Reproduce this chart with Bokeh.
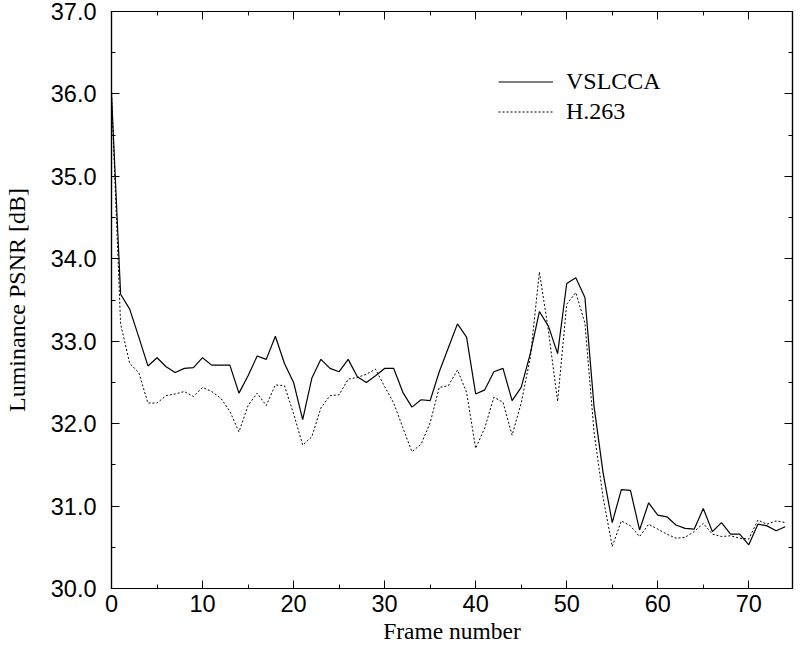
from bokeh.plotting import figure
from bokeh.models import (Range1d, SingleIntervalTicker, LinearAxis, NumeralTickFormatter,
                          Legend, LegendItem, ColumnDataSource)
from bokeh.embed import file_html
from bokeh.resources import INLINE

# ---- data -------------------------------------------------------------
frames = list(range(75))
vslcca = [36.00, 33.57, 33.39, 33.05, 32.70, 32.80, 32.69, 32.62, 32.67, 32.68,
          32.80, 32.71, 32.71, 32.71, 32.37, 32.58, 32.82, 32.78, 33.06, 32.73,
          32.50, 32.05, 32.55, 32.78, 32.67, 32.63, 32.78, 32.57, 32.50, 32.58,
          32.67, 32.67, 32.38, 32.20, 32.29, 32.28, 32.63, 32.92, 33.21, 33.05,
          32.36, 32.41, 32.63, 32.67, 32.28, 32.44, 32.85, 33.36, 33.18, 32.85,
          33.70, 33.77, 33.53, 32.21, 31.40, 30.80, 31.20, 31.19, 30.71, 31.04,
          30.89, 30.87, 30.77, 30.73, 30.72, 30.97, 30.69, 30.80, 30.66, 30.66,
          30.53, 30.78, 30.76, 30.70, 30.75]
h263 = [36.00, 33.21, 32.73, 32.62, 32.25, 32.25, 32.34, 32.36, 32.39, 32.33,
        32.44, 32.39, 32.31, 32.15, 31.90, 32.22, 32.37, 32.22, 32.47, 32.46,
        32.12, 31.74, 31.84, 32.19, 32.34, 32.35, 32.54, 32.56, 32.60, 32.66,
        32.45, 32.25, 31.95, 31.66, 31.75, 32.01, 32.44, 32.46, 32.65, 32.38,
        31.70, 31.95, 32.32, 32.26, 31.86, 32.25, 32.80, 33.84, 33.12, 32.27,
        33.45, 33.59, 33.22, 31.90, 31.10, 30.51, 30.82, 30.76, 30.63, 30.78,
        30.72, 30.66, 30.61, 30.62, 30.69, 30.79, 30.66, 30.63, 30.64, 30.61,
        30.60, 30.83, 30.78, 30.82, 30.80]
series_names = ["VSLCCA", "H.263"]
x_label = "Frame number"
y_label = "Luminance PSNR [dB]"
x_start, x_end = 0, 74.8
y_start, y_end = 30, 37

src = ColumnDataSource(dict(frame=frames, vslcca=vslcca, h263=h263))

TICK_FONT = "Liberation Sans"
LABEL_FONT = "Liberation Serif"
FS = "23.5px"

p = figure(width=794, height=650, output_backend="svg", toolbar_location=None,
           x_range=Range1d(x_start, x_end), y_range=Range1d(y_start, y_end),
           min_border_left=108, min_border_right=2, min_border_top=11, min_border_bottom=62,
           x_axis_type=None, y_axis_type=None)
p.grid.visible = False
p.outline_line_color = "black"
p.outline_line_width = 1.2
p.background_fill_color = "white"
p.border_fill_color = "white"

xt = SingleIntervalTicker(interval=10, num_minor_ticks=2)
yt = SingleIntervalTicker(interval=1, num_minor_ticks=2)


def style(ax, labels=True):
    ax.major_tick_in = 8
    ax.major_tick_out = 0
    ax.minor_tick_in = 4
    ax.minor_tick_out = 0
    ax.axis_line_color = "black"
    ax.axis_line_width = 1.2
    ax.major_tick_line_color = "black"
    ax.minor_tick_line_color = "black"
    ax.major_label_text_font = TICK_FONT
    if labels:
        ax.major_label_text_font_size = FS
        ax.major_label_text_color = "black"
    else:
        ax.major_label_text_font_size = "0px"
        ax.major_label_text_color = None
        ax.major_label_standoff = 0


xb = LinearAxis(ticker=xt, formatter=NumeralTickFormatter(format="0"), axis_label=x_label)
style(xb)
xb.major_label_standoff = 6
xb.axis_label_standoff = 3
xb.axis_label_text_font = LABEL_FONT
xb.axis_label_text_font_style = "normal"
xb.axis_label_text_font_size = FS
xb.axis_label_text_color = "black"
p.add_layout(xb, "below")

yl = LinearAxis(ticker=yt, formatter=NumeralTickFormatter(format="0.0"), axis_label=y_label)
style(yl)
yl.major_label_standoff = 15
yl.axis_label_standoff = 18
yl.axis_label_text_font = LABEL_FONT
yl.axis_label_text_font_style = "normal"
yl.axis_label_text_font_size = "24px"
yl.axis_label_text_color = "black"
p.add_layout(yl, "left")

xtop = LinearAxis(ticker=xt)
style(xtop, labels=False)
p.add_layout(xtop, "above")

yr = LinearAxis(ticker=yt)
style(yr, labels=False)
p.add_layout(yr, "right")

r1 = p.line("frame", "vslcca", source=src, line_color="black", line_width=1.2)
r2 = p.line("frame", "h263", source=src, line_color="black", line_width=1.0,
            line_dash="2 2")

legend = Legend(items=[LegendItem(label=series_names[0], renderers=[r1]),
                       LegendItem(label=series_names[1], renderers=[r2])],
                location=(387, 463))
legend.label_text_font = LABEL_FONT
legend.label_text_font_size = "24px"
legend.label_text_color = "black"
legend.glyph_width = 55
legend.glyph_height = 27
legend.label_height = 27
legend.label_standoff = 13
legend.spacing = 3
legend.padding = 0
legend.margin = 0
legend.border_line_color = None
legend.background_fill_alpha = 0
p.add_layout(legend)

open("out.html", "w").write(file_html(p, INLINE))
